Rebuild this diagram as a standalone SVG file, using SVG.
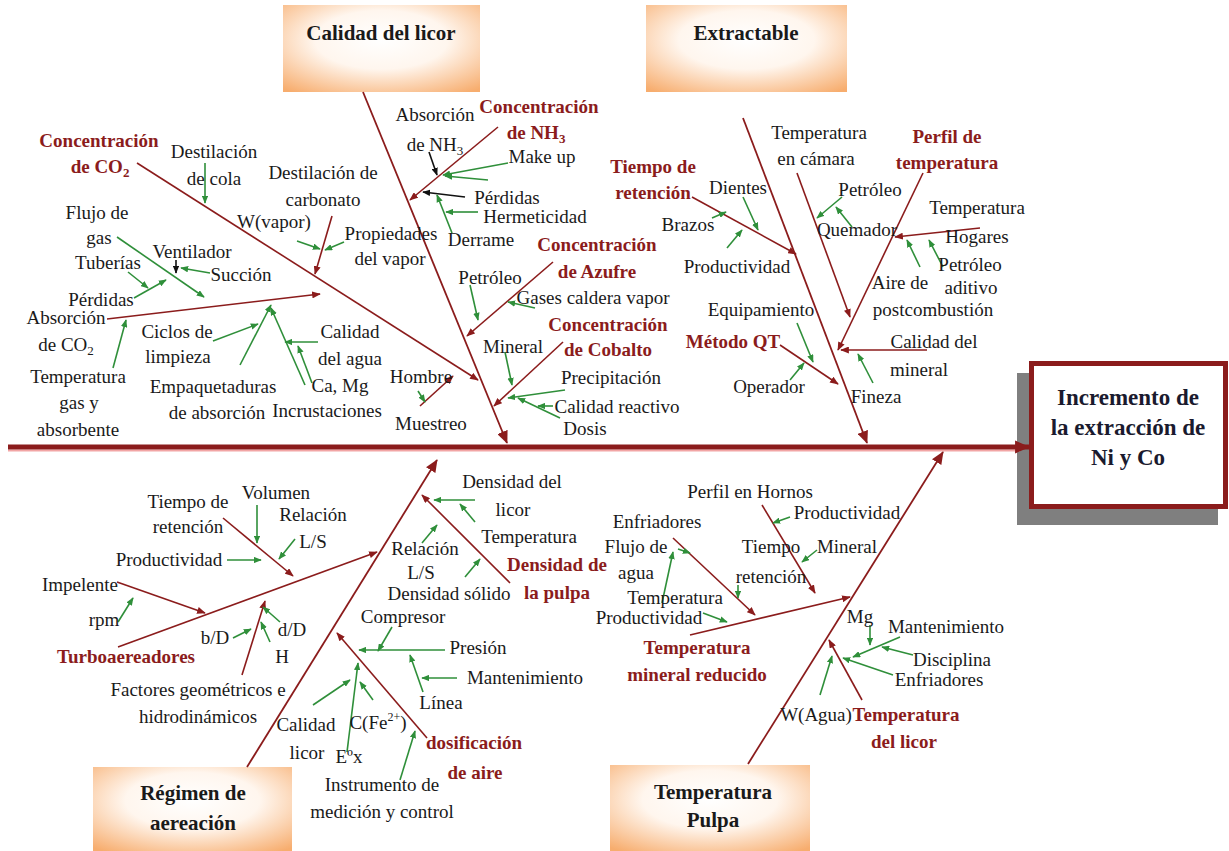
<svg xmlns="http://www.w3.org/2000/svg" width="1229" height="851" viewBox="0 0 1229 851">
<defs>
<style>
.t{font-family:"Liberation Serif","Times New Roman",serif;font-size:19px;fill:#1a1a1a;text-anchor:middle}
.r{font-family:"Liberation Serif","Times New Roman",serif;font-size:19px;font-weight:bold;fill:#8b1c1c;text-anchor:middle}
.h{font-family:"Liberation Serif","Times New Roman",serif;font-size:21px;font-weight:bold;fill:#1a1a1a;text-anchor:middle}
.e{font-family:"Liberation Serif","Times New Roman",serif;font-size:23px;font-weight:bold;fill:#1a1a2e;text-anchor:middle}
.lr{stroke:#8b1c1c;stroke-width:1.6;fill:none;marker-end:url(#mr)}
.lb{stroke:#8b1c1c;stroke-width:1.8;fill:none;marker-end:url(#mB)}
.lg{stroke:#2f8f3a;stroke-width:1.6;fill:none;marker-end:url(#mg)}
.lk{stroke:#111;stroke-width:1.6;fill:none;marker-end:url(#mk)}
</style>
<radialGradient id="bx" cx="50%" cy="40%" r="75%">
<stop offset="0" stop-color="#ffffff"/>
<stop offset="0.45" stop-color="#fff6ee"/>
<stop offset="1" stop-color="#f7ad6e"/>
</radialGradient>
<marker id="mr" viewBox="0 0 10 8" refX="9" refY="4" markerWidth="9" markerHeight="7" markerUnits="userSpaceOnUse" orient="auto"><path d="M0,0L10,4L0,8z" fill="#8b1c1c"/></marker>
<marker id="mB" viewBox="0 0 14 12" refX="13" refY="6" markerWidth="13" markerHeight="11" markerUnits="userSpaceOnUse" orient="auto"><path d="M0,0L14,6L0,12z" fill="#8b1c1c"/></marker>
<marker id="mS" viewBox="0 0 14 12" refX="13" refY="6" markerWidth="15" markerHeight="14" markerUnits="userSpaceOnUse" orient="auto"><path d="M0,0L14,6L0,12z" fill="#8b1c1c"/></marker>
<marker id="mg" viewBox="0 0 10 8" refX="9" refY="4" markerWidth="8" markerHeight="6.5" markerUnits="userSpaceOnUse" orient="auto"><path d="M0,0L10,4L0,8z" fill="#2f8f3a"/></marker>
<marker id="mk" viewBox="0 0 10 8" refX="9" refY="4" markerWidth="8" markerHeight="6.5" markerUnits="userSpaceOnUse" orient="auto"><path d="M0,0L10,4L0,8z" fill="#111"/></marker>
</defs>
<rect x="0" y="0" width="1229" height="851" fill="#ffffff"/>

<g id="box-calidad-licor"><rect x="283" y="5" width="197" height="87" fill="url(#bx)"/><text class="h" x="381" y="40">Calidad del licor</text></g>
<g id="box-extractable"><rect x="646" y="5" width="201" height="87" fill="url(#bx)"/><text class="h" x="746" y="40">Extractable</text></g>
<g id="box-regimen"><rect x="93" y="767" width="199" height="84" fill="url(#bx)"/><text class="h" x="193" y="800">Régimen de</text><text class="h" x="193" y="830">aereación</text></g>
<g id="box-temp-pulpa"><rect x="610" y="765" width="200" height="86" fill="url(#bx)"/><text class="h" x="713" y="799">Temperatura</text><text class="h" x="713" y="827">Pulpa</text></g>

<g id="effect">
<rect x="1017" y="373" width="201" height="152" fill="#7f7f7f"/>
<rect x="1031.5" y="363.5" width="194" height="143" fill="#ffffff" stroke="#8b1c1c" stroke-width="5"/>
<text class="e" x="1128" y="405">Incremento de</text>
<text class="e" x="1128" y="435">la extracción de</text>
<text class="e" x="1128" y="465">Ni y Co</text>
</g>

<g id="connectors">
<line x1="8" y1="450.5" x2="1020" y2="450.5" stroke="#f2a5a5" stroke-width="2"/>
<line x1="8" y1="447" x2="1029" y2="447" stroke="#8b1c1c" stroke-width="5" marker-end="url(#mS)"/>
<path class="lb" d="M363,92L507,443"/>
<path class="lb" d="M743,118L867,443"/>
<path class="lb" d="M247,767L437,460"/>
<path class="lb" d="M748,764L943,452"/>

<path class="lr" d="M137,163L478,380"/>
<path class="lr" d="M332,216L315,274"/>
<path class="lr" d="M107,319L320,294"/>
<path class="lr" d="M420,406L453,376"/>
<path class="lr" d="M498,127L410,200"/>
<path class="lr" d="M553,262L467,336"/>
<path class="lr" d="M563,342L494,406"/>
<path class="lr" d="M692,197L796,254"/>
<path class="lr" d="M797,173L850,317"/>
<path class="lr" d="M923,173L838,350"/>
<path class="lr" d="M980,228L895,237"/>
<path class="lr" d="M780,345L838,384"/>
<path class="lr" d="M927,350L841,350" stroke-width="2.2"/>
<path class="lr" d="M118,647L377,552"/>
<path class="lr" d="M223,518L293,576"/>
<path class="lr" d="M117,582L205,613"/>
<path class="lr" d="M242,675L265,601"/>
<path class="lr" d="M510,583L422,495"/>
<path class="lr" d="M427,738L337,633"/>
<path class="lr" d="M690,635L850,597"/>
<path class="lr" d="M673,538L755,615"/>
<path class="lr" d="M762,505L815,593"/>
<path class="lr" d="M862,700L829,640"/>

<path class="lk" d="M429,152L437,175"/>
<path class="lk" d="M465,197L423,192"/>
<path class="lk" d="M176,260L176,273"/>

<path class="lg" d="M205,163L205,203"/>
<path class="lg" d="M297,241L320,249"/>
<path class="lg" d="M344,242L325,250"/>
<path class="lg" d="M117,237L204,297"/>
<path class="lg" d="M128,272L148,288"/>
<path class="lg" d="M134,298L166,280"/>
<path class="lg" d="M210,273L181,268"/>
<path class="lg" d="M113,368L126,320"/>
<path class="lg" d="M213,341L258,324"/>
<path class="lg" d="M240,365L271,305"/>
<path class="lg" d="M305,385L271,308"/>
<path class="lg" d="M318,342L285,342"/>
<path class="lg" d="M312,383L298,346"/>
<path class="lg" d="M418,391L425,402"/>
<path class="lg" d="M508,163L443,175"/>
<path class="lg" d="M488,180L445,176"/>
<path class="lg" d="M478,212L446,212"/>
<path class="lg" d="M452,233L437,195"/>
<path class="lg" d="M470,285L478,320"/>
<path class="lg" d="M535,308L508,302"/>
<path class="lg" d="M505,352L512,385"/>
<path class="lg" d="M565,390L508,398"/>
<path class="lg" d="M553,406L538,406"/>
<path class="lg" d="M560,418L518,398"/>
<path class="lg" d="M743,197L758,230"/>
<path class="lg" d="M712,218L726,212"/>
<path class="lg" d="M727,248L742,230"/>
<path class="lg" d="M842,197L817,218"/>
<path class="lg" d="M852,227L836,207"/>
<path class="lg" d="M920,267L907,240"/>
<path class="lg" d="M943,267L929,240"/>
<path class="lg" d="M797,323L813,362"/>
<path class="lg" d="M790,380L804,363"/>
<path class="lg" d="M873,383L858,354"/>
<path class="lg" d="M257,505L257,543"/>
<path class="lg" d="M295,539L279,559"/>
<path class="lg" d="M227,560L261,560"/>
<path class="lg" d="M118,622L133,598"/>
<path class="lg" d="M280,622L263,607"/>
<path class="lg" d="M233,638L251,629"/>
<path class="lg" d="M270,642L261,622"/>
<path class="lg" d="M475,500L434,500"/>
<path class="lg" d="M475,522L460,504"/>
<path class="lg" d="M422,543L437,525"/>
<path class="lg" d="M465,577L480,559"/>
<path class="lg" d="M392,627L378,651"/>
<path class="lg" d="M445,650L359,650"/>
<path class="lg" d="M457,678L422,678"/>
<path class="lg" d="M423,692L410,655"/>
<path class="lg" d="M313,705L350,680"/>
<path class="lg" d="M347,752L358,663"/>
<path class="lg" d="M373,700L360,682"/>
<path class="lg" d="M400,780L415,731"/>
<path class="lg" d="M662,603L673,552"/>
<path class="lg" d="M678,549L690,553"/>
<path class="lg" d="M703,613L727,622"/>
<path class="lg" d="M790,517L773,523"/>
<path class="lg" d="M817,550L802,562"/>
<path class="lg" d="M738,585L738,598"/>
<path class="lg" d="M870,625L870,645"/>
<path class="lg" d="M900,637L853,657"/>
<path class="lg" d="M913,655L882,647"/>
<path class="lg" d="M893,675L843,658"/>
<path class="lg" d="M820,695L832,656"/>
</g>

<g id="cause-co2">
<text class="r" x="99" y="147">Concentración</text>
<text class="r" x="100" y="173">de CO<tspan font-size="13" dy="4">2</tspan></text>
<text class="t" x="214" y="158">Destilación</text>
<text class="t" x="214" y="185">de cola</text>
<text class="t" x="323" y="179">Destilación de</text>
<text class="t" x="323" y="206">carbonato</text>
<text class="t" x="274" y="228">W(vapor)</text>
<text class="t" x="391" y="240">Propiedades</text>
<text class="t" x="390" y="265">del vapor</text>
<text class="t" x="97" y="219">Flujo de</text>
<text class="t" x="99" y="244">gas</text>
<text class="t" x="192" y="258">Ventilador</text>
<text class="t" x="108" y="269">Tuberías</text>
<text class="t" x="241" y="281">Succión</text>
<text class="t" x="101" y="306">Pérdidas</text>
<text class="t" x="66" y="324">Absorción</text>
<text class="t" x="66" y="351">de CO<tspan font-size="13" dy="4">2</tspan></text>
<text class="t" x="78" y="383">Temperatura</text>
<text class="t" x="79" y="409">gas y</text>
<text class="t" x="78" y="436">absorbente</text>
<text class="t" x="177" y="338">Ciclos de</text>
<text class="t" x="178" y="363">limpieza</text>
<text class="t" x="213" y="393">Empaquetaduras</text>
<text class="t" x="217" y="419">de absorción</text>
<text class="t" x="350" y="338">Calidad</text>
<text class="t" x="350" y="365">del agua</text>
<text class="t" x="340" y="392">Ca, Mg</text>
<text class="t" x="327" y="417">Incrustaciones</text>
<text class="t" x="421" y="383">Hombre</text>
<text class="t" x="431" y="430">Muestreo</text>
</g>

<g id="cause-nh3">
<text class="t" x="435" y="121">Absorción</text>
<text class="t" x="435" y="151">de NH<tspan font-size="13" dy="4">3</tspan></text>
<text class="r" x="539" y="113">Concentración</text>
<text class="r" x="536" y="139">de NH<tspan font-size="13" dy="4">3</tspan></text>
<text class="t" x="542" y="163">Make up</text>
<text class="t" x="507" y="204">Pérdidas</text>
<text class="t" x="535" y="223">Hermeticidad</text>
<text class="t" x="481" y="246">Derrame</text>
</g>

<g id="cause-azufre">
<text class="r" x="597" y="251">Concentración</text>
<text class="r" x="597" y="278">de Azufre</text>
<text class="t" x="490" y="284">Petróleo</text>
<text class="t" x="593" y="304">Gases caldera vapor</text>
</g>

<g id="cause-cobalto">
<text class="r" x="608" y="331">Concentración</text>
<text class="r" x="608" y="356">de Cobalto</text>
<text class="t" x="513" y="353">Mineral</text>
<text class="t" x="611" y="384">Precipitación</text>
<text class="t" x="617" y="413">Calidad reactivo</text>
<text class="t" x="585" y="435">Dosis</text>
</g>

<g id="cause-tiempo-retencion">
<text class="r" x="653" y="173">Tiempo de</text>
<text class="r" x="653" y="199">retención</text>
<text class="t" x="738" y="194">Dientes</text>
<text class="t" x="688" y="231">Brazos</text>
<text class="t" x="737" y="273">Productividad</text>
</g>

<g id="cause-perfil-temperatura">
<text class="t" x="819" y="139">Temperatura</text>
<text class="t" x="816" y="165">en cámara</text>
<text class="r" x="947" y="143">Perfil de</text>
<text class="r" x="947" y="169">temperatura</text>
<text class="t" x="870" y="196">Petróleo</text>
<text class="t" x="977" y="214">Temperatura</text>
<text class="t" x="857" y="236">Quemador</text>
<text class="t" x="977" y="243">Hogares</text>
<text class="t" x="900" y="289">Aire de</text>
<text class="t" x="970" y="271">Petróleo</text>
<text class="t" x="971" y="294">aditivo</text>
<text class="t" x="933" y="316">postcombustión</text>
</g>

<g id="cause-metodo-qt">
<text class="t" x="761" y="316">Equipamiento</text>
<text class="r" x="733" y="348">Método QT</text>
<text class="t" x="769" y="393">Operador</text>
<text class="t" x="934" y="348">Calidad del</text>
<text class="t" x="919" y="376">mineral</text>
<text class="t" x="876" y="403">Fineza</text>
</g>

<g id="cause-turboaereadores">
<text class="t" x="188" y="508">Tiempo de</text>
<text class="t" x="188" y="533">retención</text>
<text class="t" x="276" y="499">Volumen</text>
<text class="t" x="313" y="521">Relación</text>
<text class="t" x="313" y="548">L/S</text>
<text class="t" x="169" y="566">Productividad</text>
<text class="t" x="80" y="591">Impelente</text>
<text class="t" x="104" y="626">rpm</text>
<text class="t" x="215" y="644">b/D</text>
<text class="t" x="292" y="636">d/D</text>
<text class="t" x="282" y="663">H</text>
<text class="r" x="126" y="663">Turboaereadores</text>
<text class="t" x="198" y="696">Factores geométricos e</text>
<text class="t" x="198" y="723">hidrodinámicos</text>
</g>

<g id="cause-densidad-pulpa">
<text class="t" x="512" y="488">Densidad del</text>
<text class="t" x="513" y="516">licor</text>
<text class="t" x="425" y="555">Relación</text>
<text class="t" x="421" y="579">L/S</text>
<text class="t" x="529" y="543">Temperatura</text>
<text class="r" x="557" y="571">Densidad de</text>
<text class="r" x="557" y="599">la pulpa</text>
<text class="t" x="449" y="600">Densidad sólido</text>
</g>

<g id="cause-dosificacion-aire">
<text class="t" x="403" y="623">Compresor</text>
<text class="t" x="478" y="654">Presión</text>
<text class="t" x="525" y="684">Mantenimiento</text>
<text class="t" x="441" y="709">Línea</text>
<text class="t" x="306" y="731">Calidad</text>
<text class="t" x="307" y="759">licor</text>
<text class="t" x="378" y="729">C(Fe<tspan font-size="12" dy="-8">2+</tspan><tspan dy="8">)</tspan></text>
<text class="t" x="349" y="763">Eºx</text>
<text class="r" x="474" y="749">dosificación</text>
<text class="r" x="475" y="779">de aire</text>
<text class="t" x="382" y="791">Instrumento de</text>
<text class="t" x="382" y="818">medición y control</text>
</g>

<g id="cause-temp-mineral-reducido">
<text class="t" x="750" y="498">Perfil en Hornos</text>
<text class="t" x="847" y="519">Productividad</text>
<text class="t" x="657" y="528">Enfriadores</text>
<text class="t" x="636" y="553">Flujo de</text>
<text class="t" x="636" y="579">agua</text>
<text class="t" x="771" y="553">Tiempo</text>
<text class="t" x="771" y="583">retención</text>
<text class="t" x="847" y="553">Mineral</text>
<text class="t" x="675" y="604">Temperatura</text>
<text class="t" x="649" y="624">Productividad</text>
<text class="r" x="697" y="654">Temperatura</text>
<text class="r" x="697" y="681">mineral reducido</text>
</g>

<g id="cause-temp-licor">
<text class="t" x="860" y="623">Mg</text>
<text class="t" x="946" y="633">Mantenimiento</text>
<text class="t" x="952" y="666">Disciplina</text>
<text class="t" x="939" y="686">Enfriadores</text>
<text class="t" x="816" y="721">W(Agua)</text>
<text class="r" x="906" y="721">Temperatura</text>
<text class="r" x="904" y="748">del licor</text>
</g>
</svg>
